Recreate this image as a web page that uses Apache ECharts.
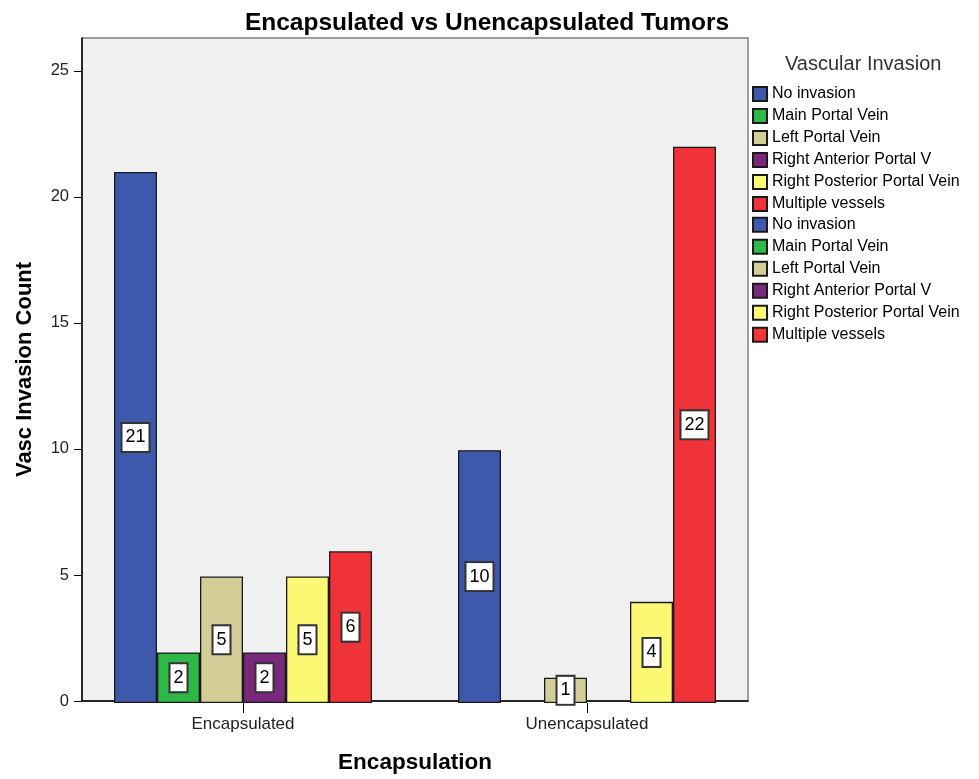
<!DOCTYPE html>
<html>
<head>
<meta charset="utf-8">
<script src="https://cdn.jsdelivr.net/npm/echarts@6/dist/echarts.min.js"></script>
<style>
html, body { margin: 0; padding: 0; background: #fff; }
#chart { width: 979px; height: 779px; }
</style>
</head>
<body>
<div id="chart"></div>
<script>
// data
var categories = ['Encapsulated', 'Unencapsulated'];
var invasionTypes = ['No invasion', 'Main Portal Vein', 'Left Portal Vein',
	'Right Anterior Portal V', 'Right Posterior Portal Vein', 'Multiple vessels'];
var noInvasion = [21, 10];
var mainPortal = [2, 0];
var leftPortal = [5, 1];
var rightAnterior = [2, 0];
var rightPosterior = [5, 4];
var multipleVessels = [6, 22];
var yTicks = [0, 5, 10, 15, 20, 25];

var colors = ['#3E58AC', '#2EB848', '#D3CE97', '#79287C', '#FBF873', '#EF3338'];
var counts = [noInvasion, mainPortal, leftPortal, rightAnterior, rightPosterior, multipleVessels];
var font = 'Liberation Sans, Arial, sans-serif';

var myChart = echarts.init(document.getElementById('chart'));

var series = invasionTypes.map(function(name, i) {
	return {
		name: name,
		type: 'bar',
		xAxisIndex: 1,
		yAxisIndex: 1,
		barGap: '0%',
		barCategoryGap: '25%',
		itemStyle: {
			color: colors[i],
			borderColor: '#1a1a1a',
			borderWidth: 1.3
		},
		label: {
			show: true,
			position: 'inside',
			color: '#000',
			fontFamily: font,
			fontSize: 18,
			lineHeight: 18,
			backgroundColor: '#fff',
			borderColor: '#333',
			borderWidth: 2,
			padding: [5, 3, 4, 3]
		},
		data: counts[i].map(function(v) {
			// empty cells draw nothing
			return { value: v, label: { show: v > 0 }, itemStyle: { opacity: v > 0 ? 1 : 0 } };
		})
	};
});

function legendAt(top) {
	return {
		data: invasionTypes,
		orient: 'vertical',
		left: 752,
		top: top,
		itemWidth: 14,
		itemHeight: 14,
		itemGap: 6,
		icon: 'rect',
		padding: 0,
		textStyle: { fontFamily: font, fontSize: 16, color: '#000' }
	};
}

var option = {
	animation: false,
	backgroundColor: '#fff',
	title: [{
		text: 'Encapsulated vs Unencapsulated Tumors',
		left: 482,
		textAlign: 'center',
		top: 6,
		textStyle: { fontFamily: font, fontSize: 24.5, fontWeight: 'bold', color: '#000' }
	}, {
		text: 'Vascular Invasion',
		left: 780,
		top: 49,
		textStyle: { fontFamily: font, fontSize: 20, fontWeight: 'normal', color: '#333' }
	}],
	legend: [legendAt(86), legendAt(216.8)],
	grid: [{
		left: 82, right: 231, top: 38, bottom: 76,
		show: true,
		backgroundColor: '#F0F0F0',
		borderColor: '#808080',
		borderWidth: 1.5
	}, {
		left: 71, right: 220, top: 38, bottom: 76
	}],
	xAxis: [{
		gridIndex: 0,
		type: 'category',
		data: categories,
		name: 'Encapsulation',
		nameLocation: 'middle',
		nameGap: 50,
		nameTextStyle: { fontFamily: font, fontSize: 22.5, fontWeight: 'bold', color: '#000' },
		axisLine: { lineStyle: { color: '#000', width: 1.5 } },
		axisTick: { show: false },
		axisLabel: { show: false }
	}, {
		gridIndex: 1,
		type: 'category',
		data: categories,
		axisLine: { show: false },
		axisTick: { show: true, alignWithLabel: true, length: 10, lineStyle: { color: '#000' } },
		axisLabel: { fontFamily: font, fontSize: 17, color: '#222', margin: 13 }
	}],
	yAxis: [{
		gridIndex: 0,
		type: 'value',
		min: 0,
		max: 26.3,
		interval: 5,
		name: 'Vasc Invasion Count',
		nameLocation: 'middle',
		nameGap: 46,
		nameTextStyle: { fontFamily: font, fontSize: 22, fontWeight: 'bold', color: '#000' },
		axisLine: { show: true, lineStyle: { color: '#000', width: 1.5 } },
		axisTick: { show: true, length: 8, lineStyle: { color: '#000' } },
		axisLabel: {
			fontFamily: font, fontSize: 16.5, color: '#222', margin: 13,
			showMaxLabel: false,
			formatter: function(v) { return yTicks.indexOf(v) >= 0 ? v : ''; }
		},
		splitLine: { show: false }
	}, {
		gridIndex: 1,
		type: 'value',
		min: 0,
		max: 26.3,
		show: false
	}],
	series: series
};
myChart.setOption(option);
</script>
</body>
</html>
